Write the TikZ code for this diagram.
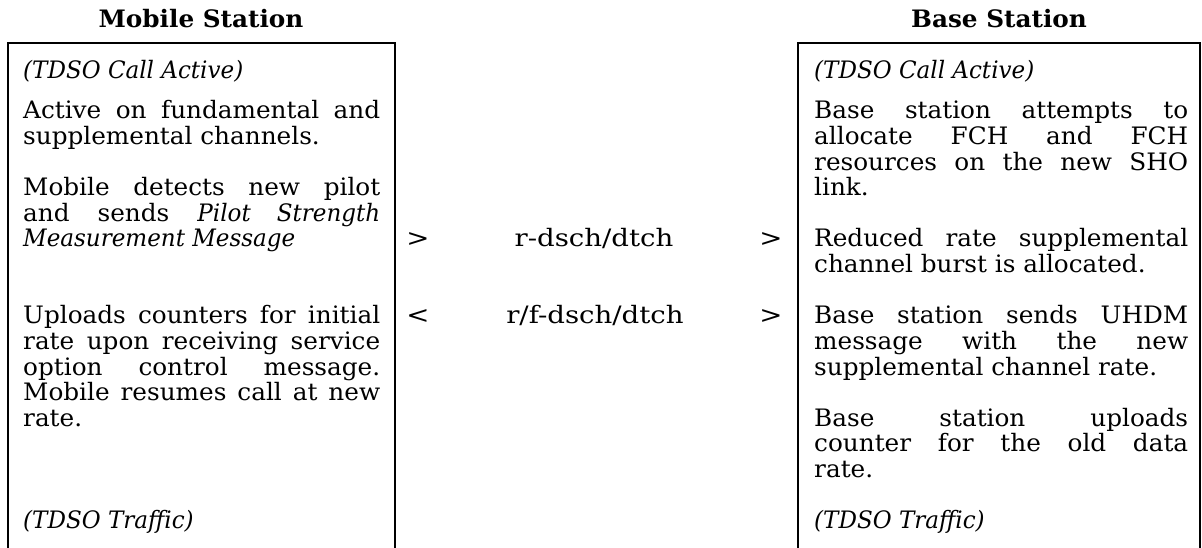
\documentclass[tikz,border=0pt]{standalone}
\usepackage{fontspec}
\setmainfont{DejaVu Serif}[FakeStretch=1.03]
\newfontfamily\itf{DejaVu Serif}[FakeStretch=0.96]
\newfontfamily\midf{DejaVu Serif}[FakeStretch=1.15]
\newcommand\ti[1]{{\itf\itshape #1}}
\newcommand\jl[1]{\makebox[\linewidth][s]{#1}\par}
\newcommand\lastl[1]{#1\par}
\tikzset{
  txt/.style={anchor=base west, inner sep=0pt, font=\fontsize{24}{25.6}\selectfont},
  hdr/.style={anchor=base, inner sep=0pt, font=\fontsize{24}{25.6}\selectfont\bfseries},
  mid/.style={anchor=base, inner sep=0pt, font=\fontsize{24}{25.6}\midf},
  frame/.style={line width=2pt}
}
\newcommand\lp[1]{\parbox[t]{357pt}{\baselineskip=25.6pt #1}}
\newcommand\rp[1]{\parbox[t]{374pt}{\baselineskip=25.6pt #1}}
\begin{document}
\begin{tikzpicture}[x=1pt,y=-1pt]
\useasboundingbox (0,0) rectangle (1202,548);
% frames
\draw[frame] (8,549) -- (8,43) -- (395,43) -- (395,549);
\draw[frame] (798,549) -- (798,43) -- (1200,43) -- (1200,549);
% headers
\node[hdr] (hms) at (201,28) {Mobile Station};
\node[hdr] (hbs) at (999,28) {Base Station};
% left column
\node[txt] (l0) at (23,79) {\lp{\ti{(TDSO Call Active)}}};
\node[txt] (l1) at (23,119) {\lp{\jl{Active on fundamental and}\lastl{supplemental channels.}}};
\node[txt] (l2) at (23,195.8) {\lp{\jl{Mobile detects new pilot}\jl{and sends \ti{Pilot Strength}}\lastl{\ti{Measurement Message}}}};
\node[txt] (l3) at (23,323.8) {\lp{\jl{Uploads counters for initial}\jl{rate upon receiving service}\jl{option control message.}\jl{Mobile resumes call at new}\lastl{rate.}}};
\node[txt] (l4) at (23,528.6) {\lp{\ti{(TDSO Traffic)}}};
% middle
\node[mid] (m1a) at (418,247) {>};
\node[mid] (m1b) at (594,247) {r-dsch/dtch};
\node[mid] (m1c) at (771,247) {>};
\node[mid] (m2a) at (418,323.8) {<};
\node[mid] (m2b) at (595,323.8) {r/f-dsch/dtch};
\node[mid] (m2c) at (771,323.8) {>};
% right column
\node[txt] (r0) at (814,79) {\rp{\ti{(TDSO Call Active)}}};
\node[txt] (r1) at (814,119) {\rp{\jl{Base station attempts to}\jl{allocate FCH and FCH}\jl{resources on the new SHO}\lastl{link.}}};
\node[txt] (r2) at (814,247) {\rp{\jl{Reduced rate supplemental}\lastl{channel burst is allocated.}}};
\node[txt] (r3) at (814,323.8) {\rp{\jl{Base station sends UHDM}\jl{message with the new}\lastl{supplemental channel rate.}}};
\node[txt] (r4) at (814,426.2) {\rp{\jl{Base station uploads}\jl{counter for the old data}\lastl{rate.}}};
\node[txt] (r5) at (814,528.6) {\rp{\ti{(TDSO Traffic)}}};
\end{tikzpicture}
\end{document}
